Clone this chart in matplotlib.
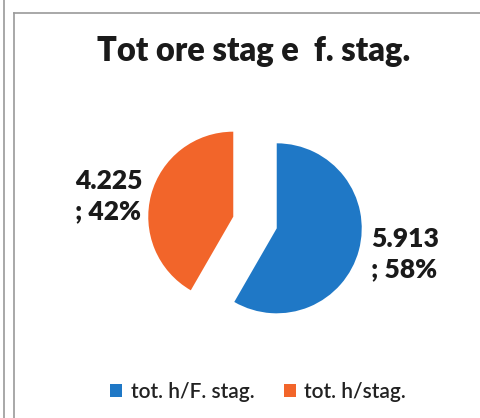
import matplotlib
matplotlib.use("Agg")
import matplotlib.pyplot as plt
from matplotlib.lines import Line2D

labels = ["tot. h/F. stag.", "tot. h/stag."]
values = [5913, 4225]
colors = ["#1F78C6", "#F2652A"]
title = "Tot ore stag e  f. stag."

W, H = 481, 418
fig = plt.figure(figsize=(W / 100, H / 100), dpi=100)
ax = fig.add_axes([0, 0, 1, 1])

cx, cy, r = 255, H - 222.5, 85
wedges, _ = ax.pie(values, colors=colors, startangle=90, counterclock=False,
                   explode=[22.5, 22.5], radius=r, center=(cx, cy))
ax.set_xlim(0, W)
ax.set_ylim(0, H)
ax.set_aspect("equal")
ax.axis("off")

total = sum(values)
def fmt(v):
    return f"{v:,}".replace(",", ".") + f"\n; {round(100 * v / total)}%"

font = "Lato"
ax.text(371, H - 254, fmt(values[0]), ha="left", va="center", fontsize=19,
        fontweight="heavy", family=font, color="#1a1a1a", linespacing=1.3)
ax.text(75, H - 196, fmt(values[1]), ha="left", va="center", fontsize=19,
        fontweight="heavy", family=font, color="#1a1a1a", linespacing=1.3)

fig.text(254 / W, 1 - 51 / H, title, ha="center", va="center", fontsize=23.5,
         fontweight="heavy", family=font, color="#1a1a1a")

fig.legend(wedges, labels, loc="center", bbox_to_anchor=(258 / W, 1 - 392 / H),
           ncol=2, frameon=False, prop={"family": font, "size": 15, "weight": "semibold"},
           handlelength=0.6, handleheight=0.6, handletextpad=0.4,
           columnspacing=1.4, labelcolor="#222222")

gray = "#9a9a9a"
fig.add_artist(Line2D([4 / W, 4 / W], [0, 1], transform=fig.transFigure, color=gray, lw=1.2))
fig.add_artist(Line2D([14 / W, 14 / W], [0, 1 - 13 / H], transform=fig.transFigure, color=gray, lw=1.2))
fig.add_artist(Line2D([14 / W, 1], [1 - 13 / H, 1 - 13 / H], transform=fig.transFigure, color=gray, lw=1.2))

fig.savefig("out.png", dpi=100)
